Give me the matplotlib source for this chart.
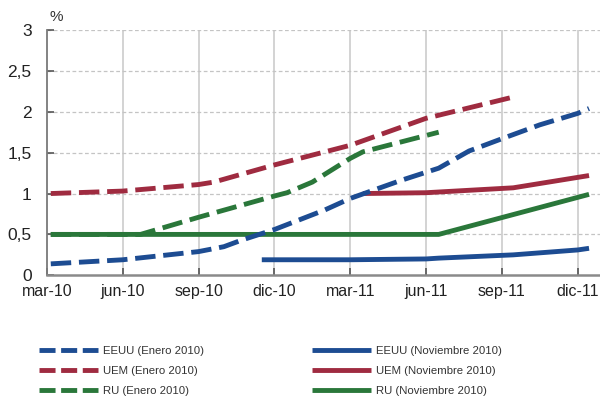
import matplotlib
matplotlib.use("Agg")
import matplotlib.pyplot as plt
from matplotlib.lines import Line2D

# Month index: 0 = mar-10, 3 = jun-10, ... 21 = dic-11
tick_pos = [0, 3, 6, 9, 12, 15, 18, 21]
tick_labels = ["mar-10", "jun-10", "sep-10", "dic-10", "mar-11", "jun-11", "sep-11", "dic-11"]
y_ticks = [0, 0.5, 1, 1.5, 2, 2.5, 3]
y_labels = ["0", "0,5", "1", "1,5", "2", "2,5", "3"]

# Expectations as of January 2010 (dashed)
eeuu_ene_x = [0.15, 3, 6, 7, 7.7, 9, 10, 11, 12, 14, 15, 15.5, 16.7, 18, 19.5, 21, 21.45]
eeuu_ene_y = [0.14, 0.19, 0.29, 0.35, 0.43, 0.56, 0.68, 0.80, 0.94, 1.16, 1.26, 1.31, 1.52, 1.67, 1.84, 1.98, 2.04]
uem_ene_x = [0.15, 3, 6, 6.6, 9, 10, 12, 15, 18.45]
uem_ene_y = [1.0, 1.03, 1.11, 1.14, 1.35, 1.43, 1.59, 1.92, 2.18]
ru_ene_x = [0.15, 3.7, 6, 9, 9.5, 10.5, 12, 12.5, 15, 15.5]
ru_ene_y = [0.5, 0.5, 0.71, 0.97, 1.01, 1.14, 1.43, 1.51, 1.71, 1.75]

# Expectations as of November 2010 (solid)
eeuu_nov_x = [8.5, 12, 15, 15.5, 18.45, 21, 21.45]
eeuu_nov_y = [0.19, 0.19, 0.20, 0.21, 0.25, 0.31, 0.33]
uem_nov_x = [12.5, 15, 18.45, 21.45]
uem_nov_y = [1.0, 1.01, 1.07, 1.22]
ru_nov_x = [0.15, 15.5, 21.45]
ru_nov_y = [0.5, 0.5, 0.99]

BLUE = "#1d4c92"
RED = "#9f2b40"
GREEN = "#2a773a"

plt.rcParams["font.family"] = ["Liberation Sans", "DejaVu Sans"]

fig = plt.figure(figsize=(6.0, 4.01), dpi=100)
ax = fig.add_axes([47 / 600, 1 - 275.3 / 401, 553 / 600, 245.3 / 401])

LW = 3.5
DASH = [4.2, 1.6]

def dashed(x, y, c):
    ln, = ax.plot(x, y, color=c, lw=LW, dash_capstyle="butt", zorder=3)
    ln.set_dashes(DASH)

def solid(x, y, c):
    ax.plot(x, y, color=c, lw=LW, solid_capstyle="butt", zorder=3)

solid(ru_nov_x, ru_nov_y, GREEN)
solid(eeuu_nov_x, eeuu_nov_y, BLUE)
solid(uem_nov_x, uem_nov_y, RED)
dashed(eeuu_ene_x, eeuu_ene_y, BLUE)
dashed(uem_ene_x, uem_ene_y, RED)
dashed(ru_ene_x, ru_ene_y, GREEN)

ax.set_xlim(0, 553 / 25.27)
ax.set_ylim(0, 3)
ax.set_xticks(tick_pos)
ax.set_xticklabels(tick_labels)
ax.set_yticks(y_ticks)
ax.set_yticklabels(y_labels)

# grid: solid vertical, dashed horizontal
for xp in tick_pos[1:]:
    ax.axvline(xp, color="#c8c8c8", lw=1.1, zorder=1)
for yp in y_ticks[1:]:
    ax.axhline(yp, color="#c4c4c4", lw=0.9, ls=(0, (3, 2)), zorder=1)

for s in ["top", "right"]:
    ax.spines[s].set_visible(False)
ax.spines["left"].set_color("#7a7a7a")
ax.spines["left"].set_linewidth(1.3)
ax.spines["bottom"].set_color("#8a8a8a")
ax.spines["bottom"].set_linewidth(1.8)

ax.tick_params(axis="x", direction="in", length=5, width=1.2, color="#555555",
               labelsize=11.5, labelcolor="#222222", pad=6.5)
ax.tick_params(axis="y", direction="in", length=5, width=1.2, color="#555555",
               labelsize=12.5, labelcolor="#222222", pad=11)

fig.text(50 / 600, 1 - 17 / 401, "%", fontsize=11, color="#333333", va="center", ha="left")

# Legend
leg_font = {"family": ["Liberation Sans", "DejaVu Sans"], "size": 8.2}

def proxy(c, ls):
    ln = Line2D([], [], color=c, lw=LW, dash_capstyle="butt", solid_capstyle="butt")
    if ls == "dash":
        ln.set_dashes([3.3, 1.15])
    return ln

left_handles = [proxy(BLUE, "dash"), proxy(RED, "dash"), proxy(GREEN, "dash")]
left_labels = ["EEUU (Enero 2010)", "UEM (Enero 2010)", "RU (Enero 2010)"]
right_handles = [proxy(BLUE, "solid"), proxy(RED, "solid"), proxy(GREEN, "solid")]
right_labels = ["EEUU (Noviembre 2010)", "UEM (Noviembre 2010)", "RU (Noviembre 2010)"]

common = dict(frameon=False, loc="upper left", prop=leg_font, handlelength=5.2,
              handletextpad=0.45, labelspacing=0.92, borderpad=0, borderaxespad=0,
              labelcolor="#333333")
leg1 = fig.legend(left_handles, left_labels, bbox_to_anchor=(39 / 600, 1 - 345.5 / 401), **common)
leg2 = fig.legend(right_handles, right_labels, bbox_to_anchor=(312 / 600, 1 - 345.5 / 401), **common)

fig.savefig("out.png", dpi=100)
